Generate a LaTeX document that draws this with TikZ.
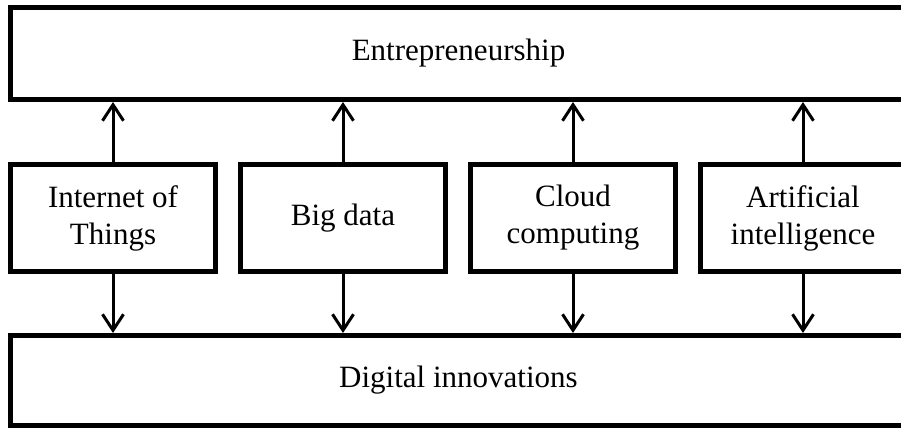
\documentclass[tikz,border=0pt]{standalone}
\usepackage{fontspec}
\setmainfont{Liberation Serif}
\usetikzlibrary{arrows.meta}
\begin{document}
\begin{tikzpicture}[node distance=115pt,auto,
  every node/.style={font=\fontsize{15.5}{18.5}\selectfont},
  wide/.style={draw,line width=2.5pt,minimum width=448pt,minimum height=46pt,inner sep=0pt},
  tech/.style={draw,line width=2.5pt,minimum width=102.5pt,minimum height=53.5pt,align=center,inner sep=0pt},
  link/.style={line width=1.5pt,-{Straight Barb[length=8pt,width=10.5pt]}}]
\clip (0,0) rectangle (450.5pt,-214pt);
\node (T) [tech] at (56.5pt,-109pt) {Internet of\\Things};
\node (B) [tech,right of=T] {Big data};
\node (C) [tech,right of=B] {Cloud\\computing};
\node (A) [tech,right of=C] {Artificial\\intelligence};
\node (E) [wide] at (229.25pt,-26.75pt) {Entrepreneurship};
\node (D) [wide,minimum height=45pt] at (229.25pt,-190.25pt) {Digital innovations};

\path[link] (T) edge (T |- E.south);
\path[link] (B) edge (B |- E.south);
\path[link] (C) edge (C |- E.south);
\path[link] (A) edge (A |- E.south);

\path[link] (T) edge (T |- D.north);
\path[link] (B) edge (B |- D.north);
\path[link] (C) edge (C |- D.north);
\path[link] (A) edge (A |- D.north);
\end{tikzpicture}
\end{document}
